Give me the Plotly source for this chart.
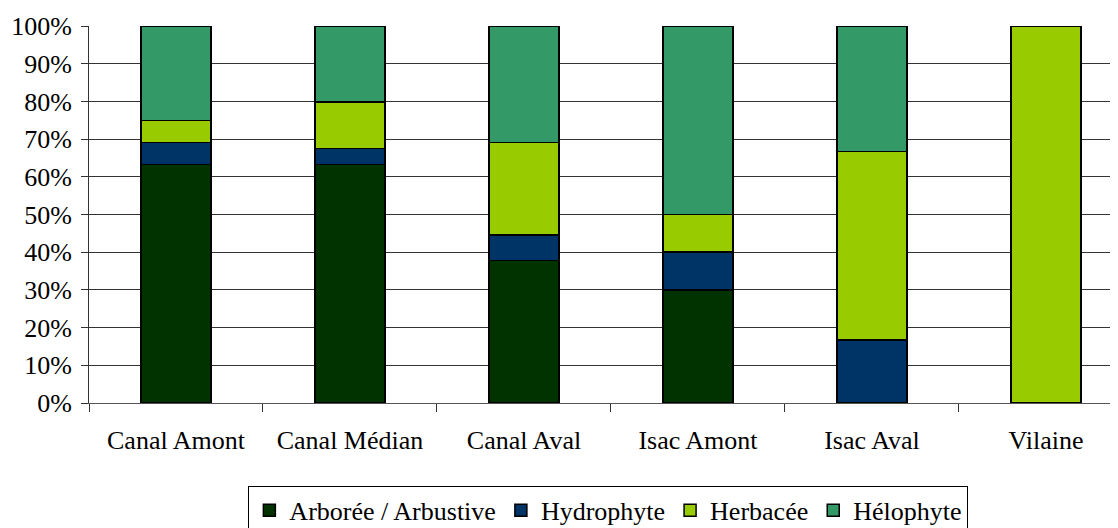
import plotly.graph_objects as go

# Sites and share of each vegetation type (%)
sites = ['Canal Amont', 'Canal Médian', 'Canal Aval', 'Isac Amont', 'Isac Aval', 'Vilaine']
arboree = [63.3, 63.3, 37.8, 30.0, 0.0, 0.0]
hydrophyte = [5.8, 4.2, 6.8, 10.0, 16.7, 0.0]
herbacee = [5.8, 12.3, 24.5, 10.0, 50.0, 100.0]
helophyte = [25.1, 20.2, 30.9, 50.0, 33.3, 0.0]

series = [
    ('Arborée / Arbustive', arboree, '#003300'),
    ('Hydrophyte', hydrophyte, '#003366'),
    ('Herbacée', herbacee, '#99CC00'),
    ('Hélophyte', helophyte, '#339966'),
]

serif = 'Liberation Serif'

fig = go.Figure()
for name, vals, col in series:
    fig.add_trace(go.Bar(name=name, x=sites, y=vals,
                         marker=dict(color=col, line=dict(color='black', width=1.5))))

# page has an 8px body margin, so margins are shifted by 8
fig.update_layout(
    barmode='stack',
    bargap=0.6,
    width=1118, height=528,
    margin=dict(l=81, r=0, t=18, b=133),
    plot_bgcolor='white', paper_bgcolor='white',
    font=dict(family=serif, size=26, color='black'),
    legend=dict(orientation='h', xref='container', yref='container',
                x=0.537, xanchor='center', y=0.095, yanchor='top',
                bordercolor='black', borderwidth=1, itemwidth=30,
                font=dict(family=serif, size=26, color='black'), traceorder='normal'),
)
fig.update_xaxes(range=[-0.5, 5.46], showline=True, linecolor='#555', linewidth=1,
                 ticks='outside', tickson='boundaries', ticklen=8, tickcolor='#333',
                 ticklabelstandoff=14, showgrid=False,
                 tickfont=dict(family=serif, size=26))
fig.update_yaxes(range=[0, 100], dtick=10, ticksuffix='%', showline=True,
                 linecolor='#333', linewidth=1, ticks='outside', ticklen=7, tickcolor='#333',
                 showgrid=True, gridcolor='#333', gridwidth=1, zeroline=False,
                 tickfont=dict(family=serif, size=26), ticklabelstandoff=4)

fig.write_html("out.html")
